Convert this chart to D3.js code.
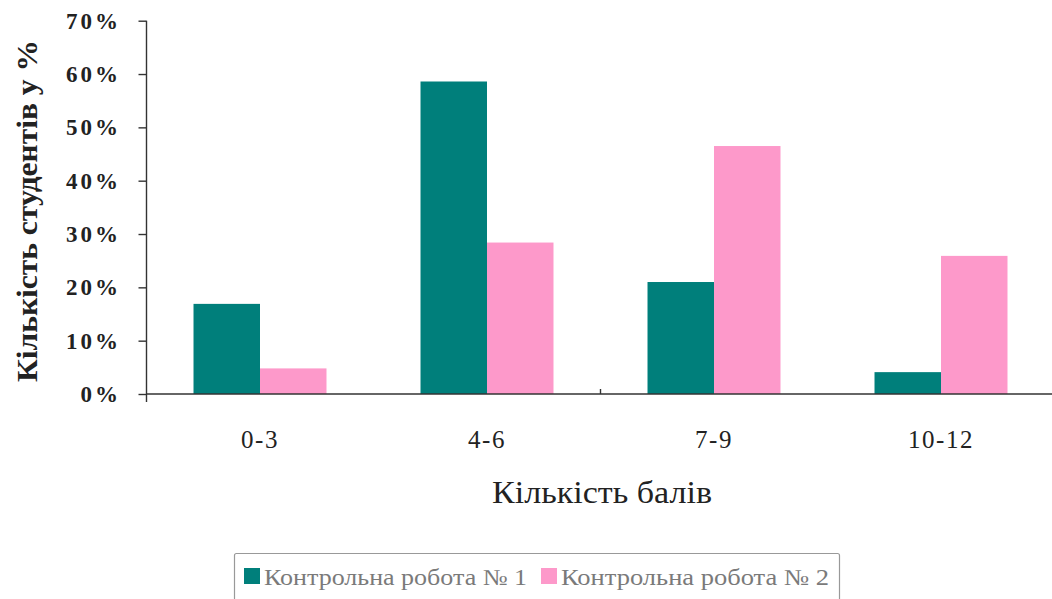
<!DOCTYPE html>
<html>
<head>
<meta charset="utf-8">
<script src="https://cdn.jsdelivr.net/npm/d3@7"></script>
<style>
  html, body { margin: 0; padding: 0; background: #fff; }
  svg { display: block; }
  text { font-family: "Liberation Serif", "Times New Roman", serif; }
</style>
</head>
<body>
<svg id="chart" width="1052" height="599"></svg>
<script>
// Score ranges (categories) and share of students per test
const categories = ["0-3", "4-6", "7-9", "10-12"];
const seriesNames = ["Контрольна робота № 1", "Контрольна робота № 2"];
const test1 = [0.169, 0.586, 0.210, 0.041];
const test2 = [0.048, 0.284, 0.465, 0.259];
const yTicks = [0, 0.1, 0.2, 0.3, 0.4, 0.5, 0.6, 0.7];
const colors = ["#007f7b", "#fd99ca"];

const svg = d3.select("#chart");

const plot = { left: 146.5, right: 1054.5, top: 20.7, bottom: 394 };

const x0 = d3.scaleBand()
  .domain(categories)
  .range([plot.left, plot.right])
  .paddingInner(0).paddingOuter(0);

const x1 = d3.scaleBand()
  .domain(seriesNames)
  .range([0, x0.bandwidth()])
  .paddingInner(0).paddingOuter(0.707);

const y = d3.scaleLinear().domain([0, 0.7]).range([plot.bottom, plot.top]);

const rows = categories.map((c, i) => ({ cat: c, values: [test1[i], test2[i]] }));

// Bars
const groups = svg.append("g").selectAll("g")
  .data(rows).join("g")
  .attr("transform", d => `translate(${x0(d.cat)},0)`);

groups.selectAll("rect")
  .data(d => d.values.map((v, k) => ({ name: seriesNames[k], v, k })))
  .join("rect")
  .attr("x", d => x1(d.name))
  .attr("width", x1.bandwidth())
  .attr("y", d => y(d.v))
  .attr("height", d => y(0) - y(d.v))
  .attr("fill", d => colors[d.k]);

// Y axis
const yAxis = d3.axisLeft(y)
  .tickValues(yTicks)
  .tickFormat(d3.format(".0%"))
  .tickSize(8)
  .tickPadding(17.5);

const gy = svg.append("g")
  .attr("transform", `translate(${plot.left},0)`)
  .call(yAxis);
gy.select(".domain").remove();
gy.append("line")
  .attr("x1", 0).attr("x2", 0)
  .attr("y1", plot.top).attr("y2", plot.bottom + 8)
  .attr("stroke", "#333").attr("stroke-width", 1.4);
gy.selectAll(".tick line").attr("stroke", "#333").attr("stroke-width", 1.4);
gy.selectAll(".tick text")
  .attr("fill", "#222")
  .attr("font-size", 23)
  .attr("font-weight", "bold")
  .attr("letter-spacing", "3px")
  .attr("font-family", "Liberation Serif, serif");

// X axis
const xAxis = d3.axisBottom(x0).tickSize(0).tickPadding(36);
const gx = svg.append("g")
  .attr("transform", `translate(0,${plot.bottom})`)
  .call(xAxis);
gx.select(".domain").remove();
gx.append("line")
  .attr("x1", plot.left).attr("x2", 1052)
  .attr("y1", 0).attr("y2", 0)
  .attr("stroke", "#333").attr("stroke-width", 1.4);
gx.selectAll(".tick text")
  .attr("fill", "#222")
  .attr("font-size", 25)
  .attr("letter-spacing", "1.5px")
  .attr("font-family", "Liberation Serif, serif");

// Category boundary marks, every second boundary
const boundaries = categories.slice(1).map(c => x0(c)).filter((b, i) => i % 2 === 1);
gx.selectAll(".bmark").data(boundaries).join("line")
  .attr("class", "bmark")
  .attr("x1", d => d).attr("x2", d => d)
  .attr("y1", -5).attr("y2", 0)
  .attr("stroke", "#333").attr("stroke-width", 1.4);

// Axis titles
svg.append("text")
  .attr("transform", "translate(37,211) rotate(-90)")
  .attr("text-anchor", "middle")
  .attr("font-size", 29)
  .attr("font-weight", "bold")
  .attr("fill", "#222")
  .attr("textLength", 342)
  .attr("lengthAdjust", "spacingAndGlyphs")
  .text("Кількість студентів у %");

svg.append("text")
  .attr("x", 602).attr("y", 503)
  .attr("text-anchor", "middle")
  .attr("font-size", 31)
  .attr("fill", "#222")
  .attr("textLength", 220)
  .attr("lengthAdjust", "spacingAndGlyphs")
  .text("Кількість балів");

// Legend
const legend = svg.append("g");
legend.append("rect")
  .attr("x", 234.5).attr("y", 553.5)
  .attr("width", 605).attr("height", 60)
  .attr("fill", "#fff")
  .attr("stroke", "#999").attr("stroke-width", 1.2)
  .attr("rx", 2);

const legendX = [244, 541];
const items = legend.selectAll("g.item")
  .data(seriesNames).join("g")
  .attr("class", "item")
  .attr("transform", (d, i) => `translate(${legendX[i]},0)`);
items.append("rect")
  .attr("x", 0).attr("y", 568)
  .attr("width", 16).attr("height", 16)
  .attr("fill", (d, i) => colors[i]);
items.append("text")
  .attr("x", 20).attr("y", 585)
  .attr("font-size", 23)
  .attr("fill", "#7a7a7a")
  .attr("textLength", (d, i) => i === 0 ? 263 : 268)
  .attr("lengthAdjust", "spacingAndGlyphs")
  .text(d => d);
</script>
</body>
</html>
